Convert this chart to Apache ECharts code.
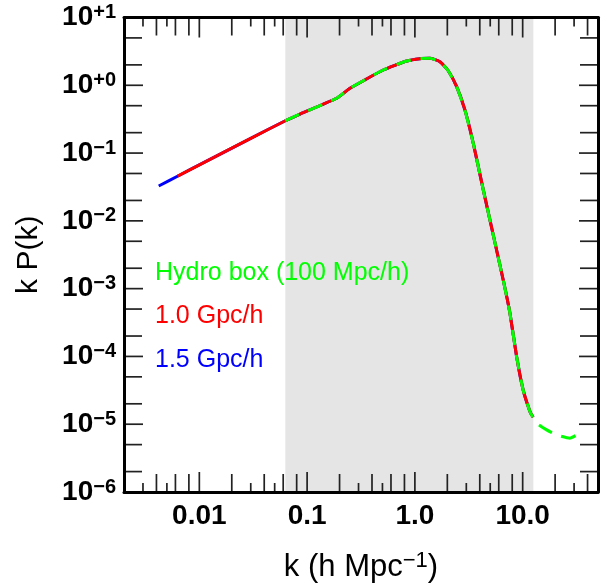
<!DOCTYPE html>
<html>
<head>
<meta charset="utf-8">
<script src="https://cdn.jsdelivr.net/npm/echarts@6/dist/echarts.min.js"></script>
<style>
html,body{margin:0;padding:0;background:#fff;}
#chart{width:613px;height:587px;}
</style>
</head>
<body>
<div id="chart"></div>
<script>
// ---------------- data ----------------
const blueK = [0.0042, 0.0066, 0.01, 0.03, 0.0628, 0.0859, 0.188, 0.25, 0.508, 0.839, 1.114, 1.379, 1.707, 2.04, 2.44, 2.91, 3.48, 4.31, 6.60, 7.62, 8.79, 10.1, 11.7, 12.5];
const blueP = [0.0327, 0.0475, 0.067, 0.165, 0.30, 0.377, 0.643, 0.903, 1.68, 2.28, 2.47, 2.50, 2.23, 1.64, 0.954, 0.433, 0.1395, 0.0286, 0.00134, 4.34e-4, 9.9e-5, 3.2e-5, 1.53e-5, 1.27e-5];

const redK = [0.0063, 0.01, 0.03, 0.0628, 0.0859, 0.188, 0.25, 0.508, 0.839, 1.114, 1.379, 1.707, 2.04, 2.44, 2.91, 3.48, 4.31, 6.60, 7.62, 8.79, 10.1, 11.7, 12.5];
const redP = [0.0458, 0.067, 0.165, 0.30, 0.377, 0.643, 0.903, 1.68, 2.28, 2.47, 2.50, 2.23, 1.64, 0.954, 0.433, 0.1395, 0.0286, 0.00134, 4.34e-4, 9.9e-5, 3.2e-5, 1.53e-5, 1.27e-5];

const hydroK = [0.0628, 0.0859, 0.188, 0.25, 0.508, 0.839, 1.114, 1.379, 1.707, 2.04, 2.44, 2.91, 3.48, 4.31, 6.60, 7.62, 8.79, 10.1, 11.7, 13.5, 16.7, 20.6, 27.4, 32.8];
const hydroP = [0.30, 0.377, 0.643, 0.903, 1.68, 2.28, 2.47, 2.50, 2.23, 1.64, 0.954, 0.433, 0.1395, 0.0286, 0.00134, 4.34e-4, 9.9e-5, 3.2e-5, 1.53e-5, 1.035e-5, 8.24e-6, 6.95e-6, 6.22e-6, 7.13e-6];

const seriesNames = ['Hydro box (100 Mpc/h)', '1.0 Gpc/h', '1.5 Gpc/h'];
const shadeRange = [0.0628, 12.566];

const xRange = [0.002, 50];
const yRange = [1e-6, 10];

const xTickValues = [0.01, 0.1, 1, 10];
const xTickLabels = ['0.01', '0.1', '1.0', '10.0'];
const xTicksLong = [0.004, 0.006, 0.008, 0.02, 0.04, 0.06, 0.08, 0.2, 0.4, 0.6, 0.8, 2, 4, 6, 8, 20, 40];
const xTicksShort = [0.003, 0.005, 0.03, 0.05, 0.3, 0.5, 3, 5, 30];

const yTickValues = [1e-6, 1e-5, 1e-4, 1e-3, 1e-2, 1e-1, 1, 10];
const yTickExps = ['\u22126', '\u22125', '\u22124', '\u22123', '\u22122', '\u22121', '+0', '+1'];
const yTicksMinor = [2e-6, 5e-6, 2e-5, 5e-5, 2e-4, 5e-4, 2e-3, 5e-3, 2e-2, 5e-2, 0.2, 0.5, 2, 5];

// ---------------- build ----------------
const FONT = '"Liberation Sans", Arial, Helvetica, sans-serif';
const pairs = (ks, ps) => ks.map((k, i) => [k, ps[i]]);
const sameLog = (a, b) => Math.abs(Math.log10(a) - Math.log10(b)) < 1e-6;

// tick classes: 0 major x, 1 long x, 2 short x, 3 major y, 4 minor y
const TICK_LEN = [20, 18, 9, 19, 18];
const tickData = [];
xTickValues.forEach(v => tickData.push([v, yRange[0], 0, 0]));
xTicksLong.forEach(v => tickData.push([v, yRange[0], 0, 1]));
xTicksShort.forEach(v => tickData.push([v, yRange[0], 0, 2]));
yTickValues.slice(1, -1).forEach(v => tickData.push([xRange[0], v, 1, 3]));
yTicksMinor.forEach(v => tickData.push([xRange[0], v, 1, 4]));

const chart = echarts.init(document.getElementById('chart'), null, {renderer: 'canvas'});

const option = {
  animation: false,
  backgroundColor: '#fff',
  grid: {left: 124, right: 15, top: 17.5, bottom: 95, containLabel: false, outerBoundsMode: 'none'},
  legend: {
    orient: 'vertical', left: 150, top: 258, padding: 0,
    icon: 'none', itemWidth: 0, itemHeight: 14, itemGap: 13.5,
    selectedMode: false,
    textStyle: {fontSize: 25, fontFamily: FONT, lineHeight: 30},
    data: [
      {name: seriesNames[0], textStyle: {color: '#00ff00'}},
      {name: seriesNames[1], textStyle: {color: '#ff0000'}},
      {name: seriesNames[2], textStyle: {color: '#0000ff'}}
    ]
  },
  xAxis: [
    {
      type: 'log', logBase: 10, min: xRange[0], max: xRange[1], position: 'bottom', z: 10,
      axisLine: {show: true, onZero: false, lineStyle: {color: '#000', width: 3}},
      axisTick: {show: false}, splitLine: {show: false}, minorTick: {show: false},
      axisLabel: {
        fontSize: 28, fontWeight: 'bold', color: '#000', fontFamily: FONT, margin: 10, lineHeight: 28,
        formatter: v => { const i = xTickValues.findIndex(t => sameLog(t, v)); return i >= 0 ? xTickLabels[i] : ''; }
      },
      name: 'k (h Mpc{s|\u22121})', nameLocation: 'middle', nameGap: 58,
      nameTextStyle: {fontSize: 31, color: '#000', fontFamily: FONT, lineHeight: 34,
        rich: {s: {fontSize: 22, color: '#000', fontFamily: FONT, verticalAlign: 'top', lineHeight: 14}}}
    },
    {
      type: 'log', logBase: 10, min: xRange[0], max: xRange[1], position: 'top', z: 10,
      axisLine: {show: true, onZero: false, lineStyle: {color: '#000', width: 3}},
      axisTick: {show: false}, axisLabel: {show: false}, splitLine: {show: false}
    }
  ],
  yAxis: [
    {
      type: 'log', logBase: 10, min: yRange[0], max: yRange[1], position: 'left', z: 10,
      axisLine: {show: true, onZero: false, lineStyle: {color: '#000', width: 3}},
      axisTick: {show: false}, splitLine: {show: false}, minorTick: {show: false},
      axisLabel: {
        margin: 8, color: '#000',
        formatter: v => { const i = yTickValues.findIndex(t => sameLog(t, v)); return i >= 0 ? '{b|10}{s|' + yTickExps[i] + '}' : ''; },
        rich: {
          b: {fontSize: 28, fontWeight: 'bold', color: '#000', fontFamily: FONT, lineHeight: 30},
          s: {fontSize: 20, fontWeight: 'bold', color: '#000', fontFamily: FONT, lineHeight: 16, verticalAlign: 'top'}
        }
      },
      name: 'k P(k)', nameLocation: 'middle', nameGap: 78, nameRotate: 90,
      nameTextStyle: {fontSize: 30, color: '#000', fontFamily: FONT, lineHeight: 34}
    },
    {
      type: 'log', logBase: 10, min: yRange[0], max: yRange[1], position: 'right', z: 10,
      axisLine: {show: true, onZero: false, lineStyle: {color: '#000', width: 3}},
      axisTick: {show: false}, axisLabel: {show: false}, splitLine: {show: false}
    }
  ],
  series: [
    {
      name: seriesNames[2], type: 'line', z: 2, data: pairs(blueK, blueP),
      showSymbol: false, symbol: 'none', smooth: 0.15,
      lineStyle: {color: '#0000ff', width: 3},
      itemStyle: {color: '#0000ff'},
      markArea: {silent: true, itemStyle: {color: '#e5e5e5'},
        data: [[{xAxis: shadeRange[0]}, {xAxis: shadeRange[1]}]]}
    },
    {
      name: seriesNames[1], type: 'line', z: 3, data: pairs(redK, redP),
      showSymbol: false, symbol: 'none', smooth: 0.15,
      lineStyle: {color: '#ff0000', width: 3},
      itemStyle: {color: '#ff0000'}
    },
    {
      name: seriesNames[0], type: 'line', z: 4, data: pairs(hydroK, hydroP),
      showSymbol: false, symbol: 'none', smooth: 0.15,
      lineStyle: {color: '#00ff00', width: 3, type: [15, 10], cap: 'butt'},
      itemStyle: {color: '#00ff00'}
    },
    {
      name: 'ticks', type: 'custom', z: 6, silent: true, clip: false,
      data: tickData,
      renderItem: function (params, api) {
        const cs = params.coordSys;
        const kind = api.value(2);
        const len = TICK_LEN[api.value(3)];
        const style = {stroke: '#222', lineWidth: 1.7};
        const p = api.coord([api.value(0), api.value(1)]);
        if (kind === 0) {
          const px = p[0], yb = cs.y + cs.height, yt = cs.y;
          return {type: 'group', children: [
            {type: 'line', shape: {x1: px, y1: yb, x2: px, y2: yb - len}, style: style},
            {type: 'line', shape: {x1: px, y1: yt, x2: px, y2: yt + len}, style: style}
          ]};
        }
        const py = p[1], xl = cs.x, xr = cs.x + cs.width;
        return {type: 'group', children: [
          {type: 'line', shape: {x1: xl, y1: py, x2: xl + len, y2: py}, style: style},
          {type: 'line', shape: {x1: xr, y1: py, x2: xr - len, y2: py}, style: style}
        ]};
      }
    }
  ]
};
chart.setOption(option);
</script>
</body>
</html>
